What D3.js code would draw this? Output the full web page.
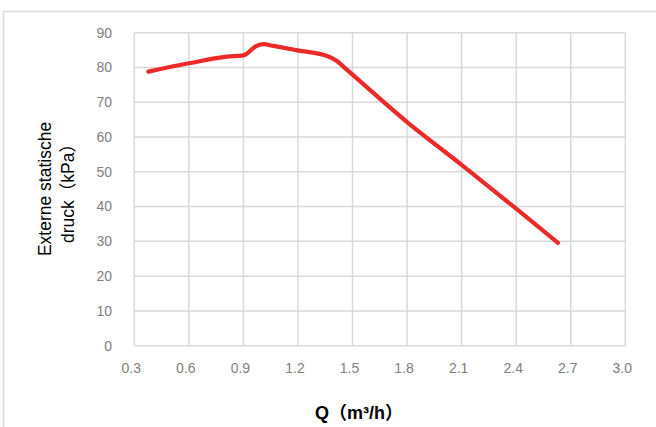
<!DOCTYPE html>
<html><head><meta charset="utf-8">
<script src="https://cdn.jsdelivr.net/npm/d3@7"></script>
<style>body{margin:0;background:#fff}svg{display:block}</style>
</head><body>
<script>
const flowQ = [0.377, 0.6, 0.81, 0.9, 0.92, 0.965, 1.01, 1.065, 1.19, 1.36, 1.41, 1.47, 1.8, 2.1, 2.4, 2.63];
const pressure = [78.8, 81.2, 83.1, 83.5, 84.0, 86.0, 86.7, 86.2, 85.0, 83.3, 82.0, 79.3, 64.3, 52.0, 39.4, 29.6];
const xTicks = [0.3, 0.6, 0.9, 1.2, 1.5, 1.8, 2.1, 2.4, 2.7, 3.0];
const yTicks = [0, 10, 20, 30, 40, 50, 60, 70, 80, 90];
const yTitle = ["Externe statische", "druck（kPa）"];
const xTitle = "Q（m³/h）";

const W = 656, H = 427;
const svg = d3.select("body").append("svg").attr("width", W).attr("height", H);
svg.append("rect").attr("x", 3.5).attr("y", 11.5).attr("width", W + 10).attr("height", H + 10)
  .attr("fill", "none").attr("stroke", "#d9d9d9").attr("stroke-width", 1.5);

const x = d3.scaleLinear().domain([0.3, 3.0]).range([134.3, 625.3]);
const y = d3.scaleLinear().domain([0, 90]).range([345.7, 32.7]);

const grid = svg.append("g").attr("stroke", "#d9d9d9").attr("stroke-width", 1.5);
grid.selectAll("line.h").data(yTicks).join("line").attr("class", "h")
  .attr("x1", x(0.3)).attr("x2", x(3.0)).attr("y1", d => y(d)).attr("y2", d => y(d));
grid.selectAll("line.v").data(xTicks).join("line").attr("class", "v")
  .attr("x1", d => x(d)).attr("x2", d => x(d)).attr("y1", y(0)).attr("y2", y(90));

const font = "'Liberation Sans', Arial, 'Noto Sans CJK SC', sans-serif";
svg.append("g").selectAll("text").data(yTicks).join("text")
  .attr("x", 112).attr("y", d => y(d)).attr("dy", "0.35em").attr("text-anchor", "end")
  .attr("font-family", font).attr("font-size", 14).attr("fill", "#808080").text(d => d);
svg.append("g").selectAll("text").data(xTicks).join("text")
  .attr("x", d => x(d) - 3).attr("y", 373).attr("text-anchor", "middle")
  .attr("font-family", font).attr("font-size", 14).attr("fill", "#808080").text(d => d.toFixed(1));

const line = d3.line().x((d, i) => x(flowQ[i])).y(d => y(d)).curve(d3.curveMonotoneX);
svg.append("path").attr("d", line(pressure)).attr("fill", "none")
  .attr("stroke", "#ec2a2a").attr("stroke-width", 4.2).attr("stroke-linecap", "round").attr("stroke-linejoin", "round");

const yt = svg.append("text").attr("transform", "translate(0,189) rotate(-90)")
  .attr("text-anchor", "middle").attr("font-family", font).attr("font-size", 17.5).attr("fill", "#000");
yt.append("tspan").attr("x", 0).attr("y", 51).text(yTitle[0]);
yt.append("tspan").attr("x", 0).attr("y", 74).text(yTitle[1]);

svg.append("text").attr("x", 359).attr("y", 419).attr("text-anchor", "middle")
  .attr("font-family", font).attr("font-size", 18).attr("font-weight", "bold").attr("fill", "#000").text(xTitle);
</script>
</body></html>
